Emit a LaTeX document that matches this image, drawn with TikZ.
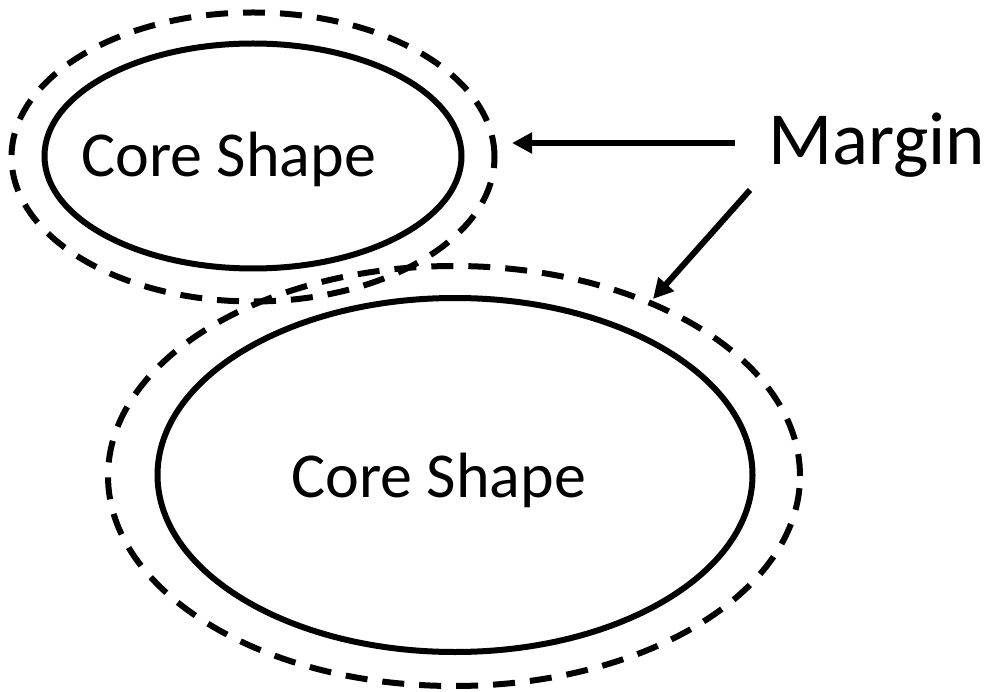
\documentclass[tikz,border=0pt]{standalone}
\usepackage{fontspec}
\setmainfont{Carlito}
\usetikzlibrary{shapes.geometric,arrows.meta}
\begin{document}
\begin{tikzpicture}[x=1pt,y=-1pt,
  core/.style={draw,ellipse,line width=6pt,inner sep=0pt},
  marginline/.style={draw,ellipse,line width=6pt,inner sep=0pt,dash pattern=on 22pt off 15pt},
  lbl/.style={font=\fontsize{64}{64}\selectfont,inner sep=0pt,anchor=base west},
  arr/.style={line width=6pt,-{Triangle[length=20pt,width=20pt]}}]
\useasboundingbox (0,0) rectangle (990,692);
\node[marginline,minimum width=483pt,minimum height=289pt] (m1) at (253,157) {};
\node[core,minimum width=417pt,minimum height=225pt] (c1) at (253,156) {};
\node[marginline,minimum width=692pt,minimum height=420pt] (m2) at (454,476) {};
\node[core,minimum width=595pt,minimum height=354pt] (c2) at (455,475) {};
\node[lbl] (t1) at (81,177) {Core Shape};
\node[lbl] (t2) at (291,497) {Core Shape};
\node[lbl,font=\fontsize{75}{75}\selectfont] (mt) at (768,165) {Margin};
\coordinate (a1) at (512,143);
\coordinate (a2) at (653,299);
\coordinate (s1) at (735,143);
\coordinate (s2) at (750,190);
\draw[arr] (s1) -- (a1);
\draw[arr] (s2) -- (a2);
\end{tikzpicture}
\end{document}
